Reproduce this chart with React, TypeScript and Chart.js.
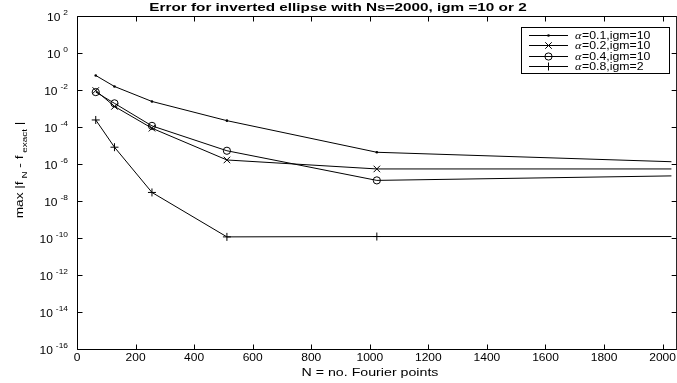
import React, { useEffect, useRef } from "react";
import { Chart, registerables } from "chart.js";

Chart.register(...registerables);

// ---- data ----
const nPoints = [64, 128, 256, 512, 1024, 2048];
const alpha01 = [0.061, 0.0155, 0.0024, 2.2e-4, 4.3e-6, 1.3e-6];
const alpha02 = [0.0094, 0.0013, 8.6e-5, 1.65e-6, 5.4e-7, 5.4e-7];
const alpha04 = [0.0077, 0.0019, 1.15e-4, 5.2e-6, 1.3e-7, 2.3e-7];
const alpha08 = [2.4e-4, 8.1e-6, 2.9e-8, 1.15e-10, 1.2e-10, 1.2e-10];

const seriesValues = [alpha01, alpha02, alpha04, alpha08];
const seriesAlpha = ["0.1", "0.2", "0.4", "0.8"];
const seriesIgm = ["10", "10", "10", "2"];
const seriesMarkers = ["dot", "crossRot", "circle", "cross"];

const xTickValues = [0, 200, 400, 600, 800, 1000, 1200, 1400, 1600, 1800, 2000];
const yTickExponents = [2, 0, -2, -4, -6, -8, -10, -12, -14, -16];

const titleText = "Error for inverted ellipse with Ns=2000, igm =10 or 2";
const xLabelText = "N = no. Fourier points";

const SANS = "'Liberation Sans', Arial, Helvetica, sans-serif";

function markerProps(m: string) {
  if (m === "dot") return { pointStyle: "circle", pointRadius: 1.3, pointBackgroundColor: "#000", pointBorderWidth: 0 };
  if (m === "crossRot") return { pointStyle: "crossRot", pointRadius: 4.6, pointBackgroundColor: "#000", pointBorderWidth: 1 };
  if (m === "circle") return { pointStyle: "circle", pointRadius: 3.6, pointBackgroundColor: "rgba(0,0,0,0)", pointBorderWidth: 1 };
  return { pointStyle: "cross", pointRadius: 4, pointBackgroundColor: "#000", pointBorderWidth: 1 };
}

function drawMarker(ctx: CanvasRenderingContext2D, m: string, x: number, y: number) {
  ctx.save();
  ctx.strokeStyle = "#000";
  ctx.fillStyle = "#000";
  ctx.lineWidth = 1;
  ctx.beginPath();
  if (m === "dot") {
    ctx.arc(x, y, 1.3, 0, Math.PI * 2);
    ctx.fill();
  } else if (m === "crossRot") {
    const r = 4.6 * Math.SQRT1_2;
    ctx.moveTo(x - r, y - r); ctx.lineTo(x + r, y + r);
    ctx.moveTo(x - r, y + r); ctx.lineTo(x + r, y - r);
    ctx.stroke();
  } else if (m === "circle") {
    ctx.arc(x, y, 3.6, 0, Math.PI * 2);
    ctx.stroke();
  } else {
    ctx.moveTo(x - 4, y); ctx.lineTo(x + 4, y);
    ctx.moveTo(x, y - 4); ctx.lineTo(x, y + 4);
    ctx.stroke();
  }
  ctx.restore();
}

// draw text horizontally stretched by sx (the reference's text is wider than its height suggests)
function stretchText(ctx: CanvasRenderingContext2D, text: string, x: number, y: number, sx: number, align: "left" | "center" | "right") {
  const w = ctx.measureText(text).width * sx;
  let x0 = x;
  if (align === "center") x0 = x - w / 2;
  else if (align === "right") x0 = x - w;
  ctx.save();
  ctx.translate(x0, y);
  ctx.scale(sx, 1);
  ctx.textAlign = "left";
  ctx.fillText(text, 0, 0);
  ctx.restore();
  return w;
}

const matlabPlugin = {
  id: "matlabAxes",
  afterDraw(chart: any) {
    const ctx: CanvasRenderingContext2D = chart.ctx;
    const { left, top, bottom } = chart.chartArea;
    const xs = chart.scales.x;
    const ys = chart.scales.y;
    const rightAxis = xs.getPixelForValue(2048);
    const L = Math.round(left) + 0.5;
    const T = Math.round(top) + 0.5;
    const B = Math.round(bottom) + 0.5;
    ctx.save();
    ctx.strokeStyle = "#000";
    ctx.lineWidth = 1;
    // axes box
    ctx.beginPath();
    ctx.moveTo(L, T); ctx.lineTo(L, B); ctx.lineTo(rightAxis, B);
    ctx.moveTo(L, T); ctx.lineTo(rightAxis, T);
    ctx.moveTo(rightAxis, T); ctx.lineTo(rightAxis, B);
    ctx.stroke();
    // ticks (inside, on all four sides)
    const tl = 5;
    ctx.beginPath();
    for (const v of xTickValues) {
      const px = Math.round(xs.getPixelForValue(v)) + 0.5;
      ctx.moveTo(px, B); ctx.lineTo(px, B - tl);
      ctx.moveTo(px, T); ctx.lineTo(px, T + tl);
    }
    for (const e of yTickExponents) {
      const py = Math.round(ys.getPixelForValue(Math.pow(10, e))) + 0.5;
      ctx.moveTo(L, py); ctx.lineTo(L + tl, py);
      ctx.moveTo(rightAxis, py); ctx.lineTo(rightAxis - tl, py);
    }
    ctx.stroke();

    ctx.fillStyle = "#000";
    ctx.textBaseline = "middle";
    // x tick labels
    ctx.font = `10px ${SANS}`;
    for (const v of xTickValues) {
      stretchText(ctx, String(v), xs.getPixelForValue(v), 358.5, 1.2, "center");
    }
    // y tick labels: 10 with superscript exponent
    for (const e of yTickExponents) {
      const py = ys.getPixelForValue(Math.pow(10, e));
      const expStr = e < 0 ? "-" + Math.abs(e) : String(e);
      ctx.font = `7px ${SANS}`;
      const ew = ctx.measureText(expStr).width * 1.2;
      const rightEdge = left - 9;
      const ex = rightEdge - ew;
      stretchText(ctx, expStr, ex, py - 3, 1.2, "left");
      ctx.font = `10px ${SANS}`;
      stretchText(ctx, "10", ex - 3, py + 2, 1.2, "right");
    }
    // x axis label
    ctx.font = `10px ${SANS}`;
    stretchText(ctx, xLabelText, 370, 373, 1.42, "center");
    // title
    ctx.font = `bold 11px ${SANS}`;
    stretchText(ctx, titleText, 338, 8, 1.39, "center");

    // y axis label with subscripts, rotated
    ctx.save();
    ctx.translate(20, 170);
    ctx.rotate(-Math.PI / 2);
    const sy = 1.24;
    const parts: [string, boolean][] = [["max |f", false], [" N", true], [" - f", false], [" exact", true], [" |", false]];
    let total = 0;
    for (const [s, sub] of parts) {
      ctx.font = sub ? `8px ${SANS}` : `11px ${SANS}`;
      total += ctx.measureText(s).width * sy;
    }
    let cx = -total / 2;
    for (const [s, sub] of parts) {
      ctx.font = sub ? `8px ${SANS}` : `11px ${SANS}`;
      cx += stretchText(ctx, s, cx, sub ? 5 : 0, sy, "left");
    }
    ctx.restore();

    // legend
    const bx0 = 521.5, by0 = 27.5, bx1 = 669.5, by1 = 73.5;
    ctx.fillStyle = "#fff";
    ctx.fillRect(bx0, by0, bx1 - bx0, by1 - by0);
    ctx.strokeStyle = "#000";
    ctx.strokeRect(bx0, by0, bx1 - bx0, by1 - by0);
    const rowY = [34.5, 45, 55.5, 66];
    for (let i = 0; i < seriesValues.length; i++) {
      const y = Math.round(rowY[i]) + 0.5;
      ctx.beginPath();
      ctx.moveTo(529, y); ctx.lineTo(568, y);
      ctx.stroke();
      drawMarker(ctx, seriesMarkers[i], 548.5, y);
      ctx.fillStyle = "#000";
      ctx.font = `italic 10px 'Liberation Serif', serif`;
      const aw = stretchText(ctx, "α", 575, y + 0.5, 1.23, "left");
      ctx.font = `10px ${SANS}`;
      stretchText(ctx, `=${seriesAlpha[i]},igm=${seriesIgm[i]}`, 575 + aw + 0.5, y + 0.5, 1.23, "left");
    }
    ctx.restore();
  },
};

export default function App() {
  const ref = useRef<HTMLCanvasElement | null>(null);
  useEffect(() => {
    if (!ref.current) return;
    const datasets = seriesValues.map((vals, i) => ({
      label: `α=${seriesAlpha[i]},igm=${seriesIgm[i]}`,
      data: nPoints.map((n, j) => ({ x: n, y: vals[j] })),
      borderColor: "#000",
      borderWidth: 1,
      pointBorderColor: "#000",
      tension: 0,
      fill: false,
      ...markerProps(seriesMarkers[i]),
    }));
    const chart = new Chart(ref.current, {
      type: "line",
      data: { datasets } as any,
      options: {
        animation: false,
        responsive: false,
        devicePixelRatio: 1,
        layout: { padding: { left: 77, top: 16, right: 0, bottom: 34 } },
        scales: {
          x: { type: "linear", min: 0, max: 2030, display: false },
          y: { type: "logarithmic", min: 1e-16, max: 1e2, display: false },
        },
        plugins: {
          legend: { display: false },
          title: { display: false },
          tooltip: { enabled: false },
        },
      } as any,
      plugins: [matlabPlugin],
    });
    return () => chart.destroy();
  }, []);
  return (
    <div style={{ position: "fixed", left: 0, top: 0, width: 677, height: 383, overflow: "hidden", background: "#fff" }}>
      <canvas ref={ref} width={677} height={383} style={{ display: "block" }} />
    </div>
  );
}
